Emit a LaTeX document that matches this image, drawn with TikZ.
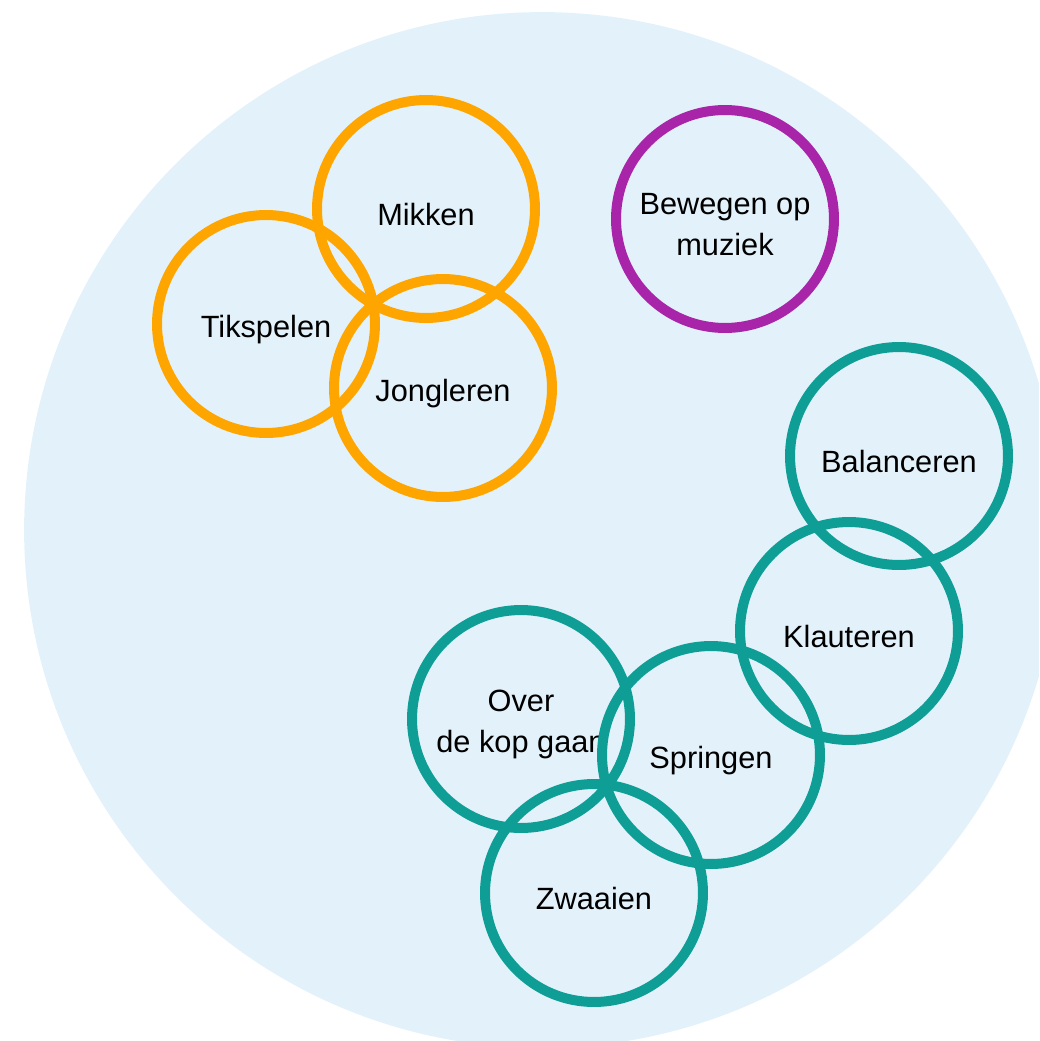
\documentclass[tikz,border=0pt]{standalone}
\usepackage{fontspec}
\setmainfont{Liberation Sans}
\definecolor{achtergrond}{HTML}{E3F2FA}
\definecolor{oranje}{HTML}{FFA500}
\definecolor{paars}{HTML}{A824A8}
\definecolor{groen}{HTML}{0E9E96}
\begin{document}
\begin{tikzpicture}[x=0.02cm,y=-0.02cm,
  tekst/.style={align=center,inner sep=0pt,yshift=-0.11cm,font=\fontsize{17.5}{23.6}\selectfont},
  ring/.style 2 args={circle,draw=#1,line width=0.2cm,minimum size=4.36cm,inner sep=0pt,
    label={[tekst]center:#2}}]
\useasboundingbox (0,0) rectangle (1039,1041);
\clip (0,0) rectangle (1039,1041);
\fill[achtergrond] (542,530) circle[radius=10.36cm];
% oranje groep
\node[ring={oranje}{Mikken}] (mikken) at (426,209) {};
\node[ring={oranje}{Tikspelen}] (tikspelen) at (266,324) {};
\node[ring={oranje}{Jongleren}] (jongleren) at (443,388) {};
% paars
\node[ring={paars}{Bewegen op\\muziek}] (muziek) at (725,219) {};
% groene groep
\node[ring={groen}{Balanceren}] (balanceren) at (899,456) {};
\node[ring={groen}{Klauteren}] (klauteren) at (849,631) {};
\node[ring={groen}{Over\\de kop gaan}] (overdekop) at (521,719) {};
\node[ring={groen}{Springen}] (springen) at (711,755) {};
\node[ring={groen}{Zwaaien}] (zwaaien) at (594,893) {};
\end{tikzpicture}
\end{document}
